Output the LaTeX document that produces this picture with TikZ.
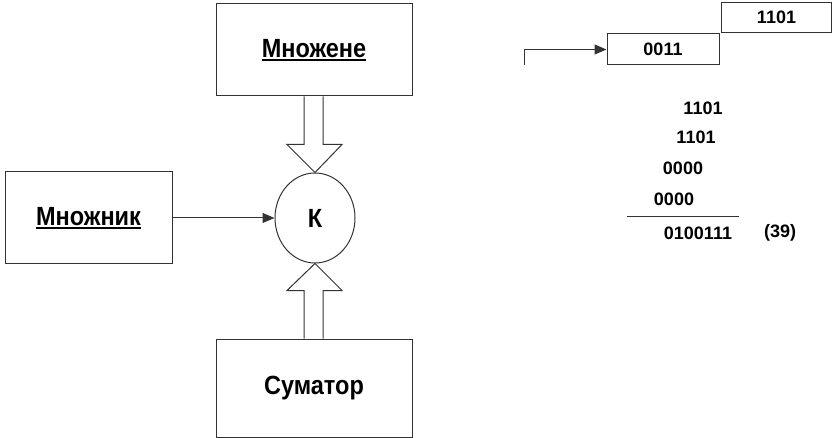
\documentclass[tikz,border=0pt]{standalone}
\usepackage{fontspec}
\usepackage{graphicx}
\setmainfont{Liberation Sans}
\usetikzlibrary{arrows.meta,shapes.geometric,calc}
\newcommand{\myul}[1]{\setbox0\hbox{#1}\rlap{\rule[-3pt]{\wd0}{2pt}}\box0}
\newcommand{\tall}[1]{\scalebox{1}[1.12]{#1}}
\tikzset{
  line/.style={draw=black!80, line width=1pt},
  blk/.style={line, fill=white, inner sep=0pt},
  lbl/.style={font=\bfseries\fontsize{23.5}{26}\selectfont},
  dig/.style={font=\bfseries\fontsize{18}{20}\selectfont, inner sep=0pt},
  arr/.style={line, -{Triangle[length=12pt,width=10pt]}},
}
\begin{document}
\begin{tikzpicture}[x=1pt,y=-1pt]
\useasboundingbox (0,0) rectangle (832,438);
% boxes
\node[blk, minimum width=196pt, minimum height=92pt] (mne) at (314,50) {};
\node[lbl] at (mne.center) {\myul{\tall{Множене}}};
\node[blk, minimum width=167pt, minimum height=92pt] (mnk) at (88.5,218) {};
\node[lbl] at (mnk.center) {\myul{\tall{Множник}}};
\node[blk, minimum width=196pt, minimum height=98pt] (sum) at (314,388) {};
\node[lbl] at (sum.center) {\tall{Суматор}};
% circle
\node[ellipse, line, minimum width=80pt, minimum height=90pt, inner sep=0pt] (k) at (315,218) {};
\node[lbl] at (k.center) {\tall{К}};
% block arrows
\draw[line] ($(mne.south)+(-10,0)$) -- ($(mne.south)+(-10,48)$) -- ($(mne.south)+(-27,48)$) -- (k.north)
  -- ($(mne.south)+(28,48)$) -- ($(mne.south)+(9,48)$) -- ($(mne.south)+(9,0)$);
\draw[line] ($(sum.north)+(-10,0)$) -- ($(sum.north)+(-10,-48)$) -- ($(sum.north)+(-27,-48)$) -- (k.south)
  -- ($(sum.north)+(28,-48)$) -- ($(sum.north)+(9,-48)$) -- ($(sum.north)+(9,0)$);
% plain arrow
\draw[arr] (mnk.east |- k.west) -- (k.west);
% right side
\node[blk, minimum width=110pt, minimum height=30pt] (b1) at (776.5,17.5) {};
\node[dig] at (b1.center) {1101};
\node[blk, minimum width=112pt, minimum height=31pt] (b2) at (663,49.5) {};
\node[dig] at (b2.center) {0011};
\coordinate (st) at (524,65);
\draw[arr] (st) |- (b2.west);
% multiplication
\node[dig] (r1) at (703,108) {1101};
\node[dig] (r2) at (696,137) {1101};
\node[dig] (r3) at (683,168) {0000};
\node[dig] (r4) at (674,199) {0000};
\coordinate (la) at (627,217);
\coordinate (lb) at (739,217);
\draw[line] (la) -- (lb);
\node[dig] (res) at (698,233) {0100111};
\node[dig] (n39) at (780,233) {(39)};
\end{tikzpicture}
\end{document}
